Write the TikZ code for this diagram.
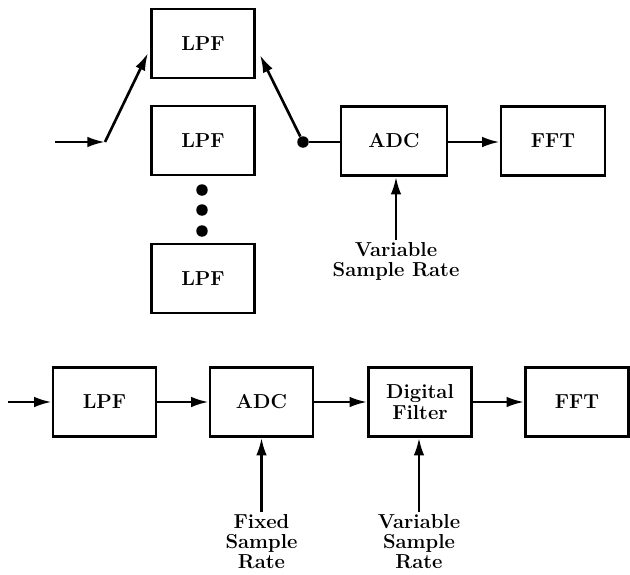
\documentclass[tikz,border=0pt]{standalone}
\usepackage{tikz}
\usetikzlibrary{arrows.meta,positioning,calc}

\begin{document}
\begin{tikzpicture}[x=0.02cm,y=-0.02cm,
    block/.style={draw,line width=1.5pt,minimum width=2.06cm,minimum height=1.38cm,
      font=\fontsize{11.5}{11.5}\selectfont\bfseries,align=center},
    lbl/.style={font=\fontsize{11.5}{11.5}\selectfont\bfseries,align=center,anchor=north,inner sep=1pt},
    sig/.style={line width=1.5pt,-{Latex[length=10pt,width=6pt]}},
    wire/.style={line width=1.5pt},
    jdot/.style={circle,fill,inner sep=0pt,minimum size=0.23cm}]
      \useasboundingbox (0,0) rectangle (630,575);
      % Upper chain: switched filter bank
      \node[block] (lpfA) at (203,43.5) {LPF};
      \node[block] (lpfB) at (203,140.5) {LPF};
      \node[block] (lpfC) at (203,278.5) {LPF};
      \foreach \yy [count=\i] in {190,210,231}
        \node[jdot] (gap\i) at (202,\yy) {};
      \node[block,minimum width=2.12cm] (adcT) at (394,141) {ADC};
      \node[block,minimum width=2.08cm] (fftT) at (553,141) {FFT};
      \node[lbl] (rateT) at (396,240) {Variable\\Sample Rate};
      % switch contacts
      \coordinate (inT) at (55,142);
      \coordinate (swIn) at (105,142);
      \coordinate (tipA) at (148,53);
      \node[jdot] (swOut) at (303,142) {};
      \coordinate (tipB) at (260,55);
      \draw[sig] (inT) -- (swIn);
      \draw[sig] (swIn) -- (tipA);
      \draw[sig] (swOut) -- (tipB);
      \draw[wire] (swOut) -- (adcT.west |- swOut);
      \draw[sig] (adcT.east |- swOut) -- (fftT.west |- swOut);
      \draw[sig] (rateT.north) -- (adcT.south -| rateT.north);
      % Lower chain: fixed rate ADC + digital filter
      \node[block] (lpf) at (104.5,402) {LPF};
      \node[block] (adc) at (261.5,402) {ADC};
      \node[block] (dfilt) at (420,402) {Digital\\Filter};
      \node[block] (fft) at (577,402) {FFT};
      \node[lbl] (fixR) at (261.5,512) {Fixed\\Sample\\Rate};
      \node[lbl] (varR) at (419,512) {Variable\\Sample\\Rate};
      \coordinate (inB) at (8,402);
      \draw[sig] (inB) -- (lpf);
      \draw[sig] (lpf) -- (adc);
      \draw[sig] (adc) -- (dfilt);
      \draw[sig] (dfilt) -- (fft);
      \draw[sig] (fixR.north) -- (adc.south);
      \draw[sig] (varR.north) -- (dfilt.south -| varR.north);
\end{tikzpicture}
\end{document}
